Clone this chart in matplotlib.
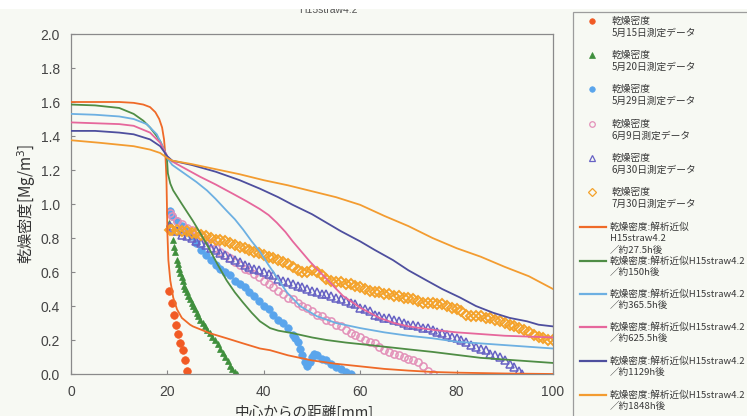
import matplotlib
matplotlib.use("Agg")
import matplotlib.pyplot as plt
from matplotlib.lines import Line2D
from matplotlib.patches import Rectangle

# ---------------- data ----------------
# measured dry density (scatter series)
x_0515 = [20.3, 20.9, 21.3, 21.8, 22.2, 22.7, 23.2, 23.6, 24.1]
y_0515 = [0.49, 0.42, 0.35, 0.29, 0.235, 0.185, 0.14, 0.08, 0.02]

x_0520 = [20.4, 21.2, 21.4, 21.6, 21.9, 22.1, 22.4, 22.7, 23.0, 23.2, 23.4, 23.7, 24.0, 24.3,
          24.7, 25.0, 25.3, 25.7, 26.1, 26.4, 26.8, 27.3, 27.8, 28.3, 28.8, 29.3, 29.9, 30.4,
          30.9, 31.5, 32.0, 32.5, 33.0, 33.5, 34.0, 34.4]
y_0520 = [0.89, 0.79, 0.75, 0.72, 0.67, 0.645, 0.62, 0.595, 0.57, 0.545, 0.52, 0.50, 0.48, 0.46,
          0.44, 0.42, 0.40, 0.38, 0.36, 0.34, 0.32, 0.30, 0.28, 0.26, 0.24, 0.22, 0.20, 0.175,
          0.15, 0.125, 0.10, 0.075, 0.05, 0.03, 0.01, 0.0]

x_0529 = [20.5, 21, 22, 23, 24, 25, 26, 27, 28, 29, 30, 31, 32, 33, 34, 35, 36, 37, 38, 39,
          40, 41, 42, 43, 44, 45, 46, 46.5, 47, 47.5, 48, 48.5, 49, 49.5, 50, 50.5, 51,
          52, 53, 54, 55, 56, 57, 58]
y_0529 = [0.96, 0.93, 0.90, 0.87, 0.84, 0.81, 0.77, 0.73, 0.70, 0.67, 0.64, 0.62, 0.60, 0.58,
          0.55, 0.53, 0.51, 0.48, 0.46, 0.43, 0.40, 0.38, 0.35, 0.32, 0.30, 0.27, 0.23, 0.21,
          0.19, 0.15, 0.11, 0.07, 0.05, 0.07, 0.10, 0.12, 0.11, 0.09, 0.08, 0.06, 0.04, 0.03,
          0.01, 0.00]

x_0609 = [20.5, 21, 22, 23, 24, 25, 26, 27, 28, 29, 30, 31, 32, 33, 34, 35, 36, 37, 38, 39,
          40, 41, 42, 43, 44, 45, 46, 47, 48, 49, 50, 51, 52, 53, 54, 55, 56, 57, 58, 59,
          60, 61, 62, 63, 64, 65, 66, 67, 68, 69, 70, 71, 72, 73, 74, 75]
y_0609 = [0.95, 0.93, 0.90, 0.88, 0.86, 0.85, 0.83, 0.81, 0.79, 0.77, 0.74, 0.72, 0.70, 0.68,
          0.66, 0.64, 0.62, 0.61, 0.59, 0.57, 0.55, 0.53, 0.51, 0.49, 0.47, 0.45, 0.44, 0.42,
          0.40, 0.39, 0.37, 0.35, 0.34, 0.32, 0.31, 0.29, 0.28, 0.26, 0.24, 0.23, 0.22, 0.20,
          0.19, 0.18, 0.16, 0.14, 0.13, 0.12, 0.11, 0.10, 0.09, 0.08, 0.07, 0.05, 0.02, 0.00]

x_0630 = [20.5, 21, 22, 23, 24, 25, 26, 27, 28, 29, 30, 31, 32, 33, 34, 35, 36, 37, 38, 39,
          40, 41, 42, 43, 44, 45, 46, 47, 48, 49, 50, 51, 52, 53, 54, 55, 56, 57, 58, 59,
          60, 61, 62, 63, 64, 65, 66, 67, 68, 69, 70, 71, 72, 73, 74, 75, 76, 77, 78, 79,
          80, 81, 82, 83, 84, 85, 86, 87, 88, 89, 90, 91, 92, 93, 93.5]
y_0630 = [0.87, 0.86, 0.84, 0.82, 0.81, 0.80, 0.78, 0.77, 0.76, 0.74, 0.73, 0.71, 0.70, 0.68,
          0.67, 0.66, 0.64, 0.63, 0.62, 0.61, 0.60, 0.59, 0.58, 0.56, 0.55, 0.54, 0.53, 0.52,
          0.51, 0.50, 0.49, 0.48, 0.47, 0.47, 0.46, 0.45, 0.44, 0.43, 0.42, 0.41, 0.39, 0.38,
          0.37, 0.35, 0.34, 0.33, 0.33, 0.32, 0.31, 0.30, 0.29, 0.29, 0.28, 0.27, 0.27, 0.26,
          0.25, 0.24, 0.23, 0.22, 0.21, 0.20, 0.19, 0.17, 0.16, 0.15, 0.14, 0.12, 0.11, 0.10,
          0.08, 0.06, 0.04, 0.02, 0.00]

x_0730 = [20.5, 21, 22, 23, 24, 25, 26, 27, 28, 29, 30, 31, 32, 33, 34, 35, 36, 37, 38, 39,
          40, 41, 42, 43, 44, 45, 46, 47, 48, 49, 50, 51, 52, 53, 54, 55, 56, 57, 58, 59,
          60, 61, 62, 63, 64, 65, 66, 67, 68, 69, 70, 71, 72, 73, 74, 75, 76, 77, 78, 79,
          80, 81, 82, 83, 84, 85, 86, 87, 88, 89, 90, 91, 92, 93, 94, 95, 96, 97, 98, 99, 100]
y_0730 = [0.85, 0.85, 0.85, 0.84, 0.84, 0.83, 0.83, 0.82, 0.81, 0.80, 0.79, 0.79, 0.78, 0.77,
          0.76, 0.75, 0.74, 0.73, 0.72, 0.71, 0.70, 0.69, 0.68, 0.67, 0.66, 0.65, 0.63, 0.61,
          0.60, 0.60, 0.61, 0.60, 0.58, 0.56, 0.55, 0.54, 0.54, 0.53, 0.53, 0.52, 0.51, 0.50,
          0.49, 0.48, 0.48, 0.47, 0.47, 0.46, 0.46, 0.45, 0.45, 0.44, 0.43, 0.42, 0.42, 0.42,
          0.41, 0.41, 0.40, 0.39, 0.38, 0.37, 0.35, 0.34, 0.34, 0.34, 0.33, 0.33, 0.32, 0.31,
          0.30, 0.29, 0.28, 0.27, 0.26, 0.25, 0.23, 0.22, 0.21, 0.20, 0.20]

# analytical approximation curves
x_a275 = [0, 5, 10, 13, 15, 16.4, 17.5, 18.3, 18.9, 19.3, 19.6, 19.8, 19.9, 20.0, 20.2, 20.6,
          21.2, 22, 23, 24.7, 25.3, 28.8, 32.3, 35.7, 39.2, 41.3, 45, 50, 55, 60, 65, 70, 75,
          80, 90, 100]
y_a275 = [1.60, 1.60, 1.60, 1.595, 1.585, 1.57, 1.54, 1.50, 1.45, 1.38, 1.28, 1.15, 1.00, 0.83,
          0.67, 0.55, 0.45, 0.38, 0.33, 0.29, 0.28, 0.24, 0.21, 0.18, 0.15, 0.14, 0.11, 0.08,
          0.06, 0.045, 0.03, 0.02, 0.012, 0.008, 0.003, 0.0]

x_a150 = [0, 5, 10, 13, 15, 16.4, 17.5, 18.5, 19.3, 19.9, 20.1, 20.6, 21.2, 23, 25.3, 27, 28.8,
          30.5, 32.3, 34, 35.7, 37.5, 39.2, 41.3, 43, 46, 50, 53, 57, 62, 70, 75, 80.7, 85, 90,
          95, 100]
y_a150 = [1.585, 1.58, 1.565, 1.53, 1.49, 1.45, 1.41, 1.37, 1.32, 1.27, 1.18, 1.12, 1.08, 1.00,
          0.90, 0.82, 0.73, 0.64, 0.55, 0.48, 0.42, 0.36, 0.31, 0.27, 0.255, 0.24, 0.215, 0.20,
          0.185, 0.17, 0.145, 0.13, 0.11, 0.095, 0.085, 0.075, 0.065]

x_a365 = [0, 5, 10, 13, 15.7, 17.8, 19, 20.2, 21, 22, 24, 26, 28.2, 30, 32.3, 34, 35.7, 37.5,
          39.2, 41, 42.7, 44.8, 47.5, 51, 55, 60, 65, 70, 75, 80, 85, 90, 95, 100]
y_a365 = [1.53, 1.525, 1.515, 1.50, 1.47, 1.41, 1.34, 1.26, 1.23, 1.21, 1.17, 1.13, 1.08, 1.03,
          0.96, 0.91, 0.85, 0.78, 0.72, 0.64, 0.57, 0.48, 0.40, 0.34, 0.30, 0.27, 0.245, 0.225,
          0.21, 0.19, 0.18, 0.17, 0.16, 0.15]

x_a625 = [0, 5, 10, 13, 16.4, 18.5, 20, 21, 26.8, 30, 33.6, 36.5, 39.2, 41, 42.7, 44.5, 46,
          49.6, 53, 56.4, 60, 62, 64, 67, 70, 75, 80, 85, 90, 95, 100]
y_a625 = [1.48, 1.475, 1.47, 1.46, 1.42, 1.36, 1.28, 1.25, 1.16, 1.115, 1.06, 1.015, 0.97,
          0.935, 0.89, 0.835, 0.78, 0.66, 0.56, 0.46, 0.39, 0.36, 0.33, 0.30, 0.28, 0.26,
          0.245, 0.235, 0.225, 0.22, 0.215]

x_a1129 = [0, 5, 10, 13, 16.4, 18.5, 20, 21, 25, 30, 35, 39.2, 43, 46, 50, 53, 56, 60, 63,
           66.8, 70, 73.8, 77, 80.7, 84, 87.6, 91, 94.6, 97, 100]
y_a1129 = [1.43, 1.43, 1.42, 1.41, 1.38, 1.34, 1.28, 1.255, 1.23, 1.19, 1.14, 1.09, 1.04, 0.995,
           0.94, 0.89, 0.84, 0.78, 0.73, 0.67, 0.61, 0.55, 0.50, 0.45, 0.40, 0.36, 0.33, 0.31,
           0.29, 0.28]

x_a1848 = [0, 6, 13, 16.4, 18.5, 20, 21, 25, 30, 35, 40, 45, 50, 55, 60, 65, 70, 75, 80, 85,
           90, 95, 100]
y_a1848 = [1.375, 1.36, 1.34, 1.32, 1.30, 1.27, 1.255, 1.235, 1.205, 1.175, 1.14, 1.11, 1.075,
           1.04, 0.995, 0.93, 0.87, 0.80, 0.74, 0.69, 0.63, 0.575, 0.50]

x_ticks = [0, 20, 40, 60, 80, 100]
y_ticks = [0.0, 0.2, 0.4, 0.6, 0.8, 1.0, 1.2, 1.4, 1.6, 1.8, 2.0]

scatter_labels = ["乾燥密度\n5月15日測定データ", "乾燥密度\n5月20日測定データ",
                  "乾燥密度\n5月29日測定データ", "乾燥密度\n6月9日測定データ",
                  "乾燥密度\n6月30日測定データ", "乾燥密度\n7月30日測定データ"]
line_labels = ["乾燥密度:解析近似\nH15straw4.2\n／約27.5h後",
               "乾燥密度:解析近似H15straw4.2\n／約150h後",
               "乾燥密度:解析近似H15straw4.2\n／約365.5h後",
               "乾燥密度:解析近似H15straw4.2\n／約625.5h後",
               "乾燥密度:解析近似H15straw4.2\n／約1129h後",
               "乾燥密度:解析近似H15straw4.2\n／約1848h後"]

# ---------------- styles ----------------
BG = "#f7f9f3"
JP = ["Noto Sans CJK JP", "DejaVu Sans"]
W, H = 747, 416

scatter_styles = [
    dict(marker="o", ms=5.5, mfc="#f15a24", mec="#f15a24", mew=0.5),
    dict(marker="^", ms=3.8, mfc="#3f8f3c", mec="#3f8f3c", mew=0.5),
    dict(marker="o", ms=5.4, mfc="#5aa5ec", mec="#5aa5ec", mew=0.5),
    dict(marker="o", ms=5.2, mfc="none", mec="#e391b9", mew=1.1),
    dict(marker="^", ms=5.6, mfc="none", mec="#6762c4", mew=1.1),
    dict(marker="D", ms=4.8, mfc="none", mec="#f4a22a", mew=1.4),
]
line_colors = ["#ef6a28", "#4f8d45", "#6db0e2", "#e6679c", "#4e4f9e", "#f39c30"]

plt.rcParams["font.family"] = ["Liberation Sans", "Noto Sans CJK JP", "DejaVu Sans"]

fig = plt.figure(figsize=(W / 100, H / 100), dpi=100, facecolor=BG)
ax = fig.add_axes([71 / W, 1 - 374 / H, (553 - 71) / W, (374 - 34) / H])
ax.set_facecolor(BG)

scatter_data = [(x_0515, y_0515), (x_0520, y_0520), (x_0529, y_0529),
                (x_0609, y_0609), (x_0630, y_0630), (x_0730, y_0730)]
line_data = [(x_a275, y_a275), (x_a150, y_a150), (x_a365, y_a365),
             (x_a625, y_a625), (x_a1129, y_a1129), (x_a1848, y_a1848)]

for (xs, ys), st in zip(scatter_data, scatter_styles):
    ax.plot(xs, ys, ls="none", zorder=2, **st)
for (xs, ys), c in zip(line_data, line_colors):
    ax.plot(xs, ys, color=c, lw=1.3, zorder=3)

ax.set_xlim(0, 100)
ax.set_ylim(0, 2.0)
ax.set_xticks(x_ticks)
ax.set_yticks(y_ticks)
ax.set_yticklabels([f"{v:.1f}" for v in y_ticks])
ax.tick_params(direction="in", length=3, width=0.8, color="#888888",
               labelsize=10, labelcolor="#444444", pad=8)
for s in ax.spines.values():
    s.set_color("#8a8a8a")
    s.set_linewidth(0.9)

ax.set_ylabel("乾燥密度[Mg/m$^3$]", fontsize=11, color="#333333", family=JP, labelpad=2)
fig.text(304 / W, 1 - 405 / H, "中心からの距離[mm]", ha="center", va="top",
         fontsize=10.5, color="#333333", family=JP)
fig.text(328 / W, 1 - 10 / H, "H15straw4.2", ha="center", va="center",
         fontsize=7.5, color="#555555")

# white strip across the very top
fig.patches.append(Rectangle((0, 1 - 9 / H), 1, 9 / H, transform=fig.transFigure,
                             facecolor="white", edgecolor="none", zorder=10))

# legend panel
fig.patches.append(Rectangle((573 / W, -0.05), 0.5, 1 - 12 / H + 0.05,
                             transform=fig.transFigure, facecolor=BG,
                             edgecolor="#9c9c9c", lw=0.9, zorder=1))

def fx(px):
    return px / W

def fy(py):
    return 1 - py / H

scatter_rows = [21, 55, 89, 124, 158, 192]
for row, label, st in zip(scatter_rows, scatter_labels, scatter_styles):
    kw = dict(st)
    kw["ms"] = min(kw["ms"], 4.0)
    kw["mew"] = min(kw["mew"], 0.9)
    fig.lines.append(Line2D([fx(592)], [fy(row)], transform=fig.transFigure,
                            ls="none", zorder=3, **kw))
    for i, part in enumerate(label.split("\n")):
        fig.text(fx(612), fy(row + 12 * i), part, ha="left", va="center",
                 fontsize=7.0, color="#383838", family=JP)

line_rows = [227, 261, 294, 327, 361, 395]
for row, label, c in zip(line_rows, line_labels, line_colors):
    fig.lines.append(Line2D([fx(580), fx(606)], [fy(row), fy(row)],
                            transform=fig.transFigure, color=c, lw=1.6, zorder=3))
    for i, part in enumerate(label.split("\n")):
        fig.text(fx(610), fy(row + 11.5 * i), part, ha="left", va="center",
                 fontsize=6.9, color="#383838", family=JP)

fig.savefig("out.png", dpi=100, facecolor=BG)
